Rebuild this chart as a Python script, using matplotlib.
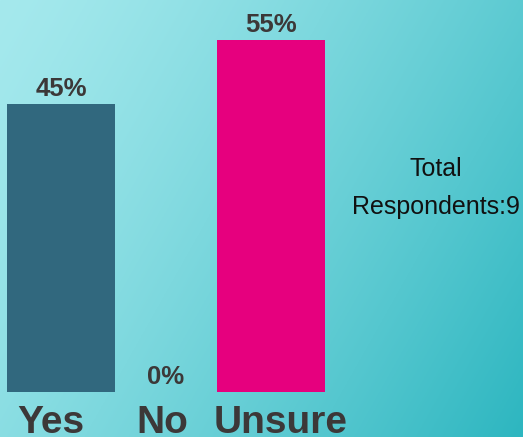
import numpy as np
import matplotlib.pyplot as plt

categories = ["Yes", "No", "Unsure"]
percents = [45, 0, 55]
bar_colors = ["#31687e", "#31687e", "#e6007e"]
total_respondents = 9

W, H = 523, 437
fig = plt.figure(figsize=(W / 100, H / 100), dpi=100)

# diagonal background gradient
bg = fig.add_axes([0, 0, 1, 1])
xx, yy = np.meshgrid(np.linspace(0, 1, 300), np.linspace(0, 1, 300))
t = np.clip(0.68 * xx + 0.32 * yy, 0, 1) ** 1.3
c0 = np.array([165, 233, 237]) / 255
c1 = np.array([45, 182, 192]) / 255
img = c0[None, None, :] * (1 - t[..., None]) + c1[None, None, :] * t[..., None]
bg.imshow(img, extent=[0, 1, 0, 1], aspect="auto", origin="upper")
bg.axis("off")

# plotting axes: baseline at 392 px from top, 6.4 px per percent, 105 px per category
base = 392
ax = fig.add_axes([0, (H - base) / H, 1, base / H])
ax.set_xlim(-61 / 105, (W - 61) / 105)
ax.set_ylim(0, base / 6.4)
ax.axis("off")

x = np.arange(len(categories))
ax.bar(x, percents, width=1.03, color=bar_colors)

for xi, p in zip(x, percents):
    ax.annotate(f"{p}%", (xi, p), xytext=(0, 8), textcoords="offset pixels",
                ha="center", va="baseline", fontsize=18.5, fontweight="bold",
                family="Liberation Sans", color="#3c3838")

# category labels sit a little off-centre in the reference
label_shift = [-10, -4, 10]
for xi, c, dx in zip(x, categories, label_shift):
    ax.annotate(c, (xi, 0), xytext=(dx, -41), textcoords="offset pixels",
                ha="center", va="baseline", fontsize=28, fontweight="bold",
                family="Liberation Sans", color="#3c3838", annotation_clip=False)

fig.text(436 / W, 1 - 176 / H, "Total", ha="center", va="baseline",
         fontsize=18, family="Liberation Sans", color="#111111")
fig.text(436 / W, 1 - 214 / H, f"Respondents:{total_respondents}", ha="center",
         va="baseline", fontsize=18, family="Liberation Sans", color="#111111")

fig.savefig("out.png", dpi=100)
